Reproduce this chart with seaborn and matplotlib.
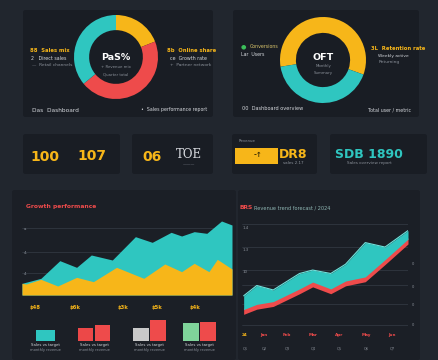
import matplotlib.pyplot as plt
import seaborn as sns
from matplotlib.patches import FancyBboxPatch

# ---- data ----
mix_share = [19, 45, 36]          # yellow, red, teal (clockwise from top)
users_share = [58, 42]            # yellow, teal

area_t_teal = [0, 9, 18, 26, 33, 43, 54, 62, 71, 76, 82, 88, 95, 100]
area_teal = [35, 50, 103, 83, 120, 105, 175, 158, 188, 177, 190, 185, 222, 210]
area_t_gold = [0, 2, 9, 17, 26, 34, 45, 58, 68, 76, 82, 89, 93, 100]
area_gold = [35, 33, 47, 27, 53, 40, 83, 50, 93, 70, 95, 70, 107, 78]
area_labels = ['$48', '$6k', '$3k', '$5k', '$4k']

mini_groups = [[11], [12, 15], [12, 20], [17, 18]]

trend_t = [0, 8, 18, 34, 42, 53, 62, 74, 86, 100]
trend_upper = [85, 115, 102, 150, 160, 150, 177, 240, 227, 275]
trend_lower = [45, 60, 68, 105, 125, 105, 128, 140, 190, 250]
trend_labels = ['24', 'Jan', 'Feb', 'Mar', 'Apr', 'May', 'Jun']
trend_sub = ['Q1', 'Q2', 'Q3', 'Q4', 'Q5', 'Q6', 'Q7']

# ---- style ----
BG = '#21262e'
PANEL = '#191d24'
TEAL = '#2fc6c0'
GOLD = '#f7b619'
RED = '#ee4b4b'
GRAY = '#8a9099'
LIGHT = '#d5d8dd'
GRID = '#363c46'

sns.set_theme(style='dark', rc={'axes.facecolor': 'none', 'figure.facecolor': BG})
plt.rcParams['font.family'] = ['DejaVu Sans']

W, H = 439, 360
fig = plt.figure(figsize=(W / 100, H / 100), dpi=100)
fig.patch.set_facecolor(BG)


def box(x0, y0, x1, y1):
    return [x0 / W, 1 - y1 / H, (x1 - x0) / W, (y1 - y0) / H]


def panel(x0, y0, x1, y1, fc=PANEL, z=-2):
    fig.patches.append(FancyBboxPatch((x0 / W, 1 - y1 / H), (x1 - x0) / W, (y1 - y0) / H,
                                      boxstyle='round,pad=0,rounding_size=0.006',
                                      transform=fig.transFigure, fc=fc, ec='none', zorder=z))


def txt(x, y, s, size=3.6, color=GRAY, **kw):
    kw.setdefault('va', 'center')
    fig.text(x / W, 1 - y / H, s, fontsize=size, color=color, **kw)


# panels
panel(23, 10, 213, 117)
panel(233, 10, 419, 117)
panel(23, 134, 120, 174)
panel(132, 134, 213, 174)
panel(232, 134, 317, 174)
panel(330, 134, 427, 174)
panel(12, 190, 236, 360, fc='#1b1f26')
panel(238, 190, 420, 360, fc='#1b1f26')

# ---- donut 1 ----
ax = fig.add_axes(box(74, 15, 158, 99))
ax.pie(mix_share, colors=[GOLD, RED, TEAL], startangle=90, counterclock=False,
       radius=1, wedgeprops=dict(width=0.36, edgecolor='none'))
ax.set_xlim(-1, 1)
ax.set_ylim(-1, 1)
ax.set_aspect('equal')
ax.axis('off')
txt(116, 58, 'PaS%', size=6.8, color='white', ha='center', weight='bold')
txt(116, 67, '+ Revenue mix', size=2.8, ha='center')
txt(116, 74, 'Quarter total', size=2.8, ha='center')

txt(30, 51, '88  Sales mix', size=3.8, color=GOLD, weight='bold')
txt(31, 58, '2   Direct sales', size=3.4, color=LIGHT)
txt(32, 65, '—  Retail channels', size=3.2)
txt(167, 51, '8b  Online share', size=3.8, color=GOLD, weight='bold')
txt(170, 58, 'ce  Growth rate', size=3.4, color=LIGHT)
txt(170, 65, '+  Partner network', size=3.2)
txt(32, 110, 'Das  Dashboard', size=4.2, color=LIGHT)
txt(207, 110, '•  Sales performance report', size=3.4, color=LIGHT, ha='right')

# ---- donut 2 ----
ax = fig.add_axes(box(280, 17, 366, 103))
ax.pie(users_share, colors=[GOLD, TEAL], startangle=189, counterclock=False,
       radius=1, wedgeprops=dict(width=0.37, edgecolor='none'))
ax.set_xlim(-1, 1)
ax.set_ylim(-1, 1)
ax.set_aspect('equal')
ax.axis('off')
txt(323, 57, 'OFT', size=6.8, color='white', ha='center', weight='bold')
txt(323, 66, 'Monthly', size=2.8, ha='center')
txt(323, 73, 'Summary', size=2.8, ha='center')

txt(241, 47, '●', size=4.5, color='#3bbf5a')
txt(250, 47, 'Conversions', size=3.4, color='#d8c36a')
txt(241, 54, 'Lar  Users', size=3.4, color=LIGHT)
txt(371, 48, '3L  Retention rate', size=3.8, color=GOLD, weight='bold')
txt(378, 56, 'Weekly active', size=3.2, color=LIGHT)
txt(379, 62, 'Returning', size=3.2)
txt(242, 109, '00  Dashboard overview', size=3.6, color=LIGHT)
txt(411, 110, 'Total user / metric', size=3.4, color=LIGHT, ha='right')

# ---- KPI cards ----
txt(45, 157, '100', size=10, color=GOLD, ha='center', weight='bold')
txt(92, 156, '107', size=10, color=GOLD, ha='center', weight='bold')
txt(152, 157, '06', size=10, color=GOLD, ha='center', weight='bold')
txt(189, 155, 'TOE', size=8.5, color=LIGHT, ha='center', family='DejaVu Serif')
txt(189, 164, '———', size=3, color=GRAY, ha='center')
txt(239, 141, 'Revenue', size=2.8)
fig.patches.append(FancyBboxPatch((235 / W, 1 - 164 / H), 43 / W, 16 / H, boxstyle='square,pad=0',
                                  transform=fig.transFigure, fc=GOLD, ec='none', zorder=-1))
txt(258, 155, '-↑', size=5, color='#3a2d05', ha='center', weight='bold')
txt(293, 154, 'DR8', size=9, color=GOLD, ha='center', weight='bold')
txt(293, 163, 'sales 2.17', size=3, color=GRAY, ha='center')
txt(369, 155, 'SDB 1890', size=9, color=TEAL, ha='center', weight='bold')
txt(369, 163, 'Sales overview report', size=3, color=GRAY, ha='center')

# ---- bottom left: stacked area ----
txt(26, 207, 'Growth performance', size=4.3, color=RED, weight='bold')
ax = fig.add_axes(box(22, 215, 232, 296))
ax.fill_between(area_t_teal, area_teal, color=TEAL, lw=0)
ax.fill_between(area_t_gold, area_gold, color=GOLD, lw=0)
ax.set_xlim(0, 100)
ax.set_ylim(-3, 240)
ax.set_yticks([66, 129, 201])
ax.set_xticks([])
ax.set_yticklabels([])
ax.grid(axis='y', color=GRID, lw=0.5)
ax.set_axisbelow(True)
ax.tick_params(length=0)
sns.despine(ax=ax, left=True, bottom=True)
for y, s in zip([229, 253, 274], ['a.', '4.', '4']):
    txt(24, y, s, size=2.8)
for x, s in zip([35, 75, 123, 157, 195], area_labels):
    txt(x, 307, s, size=3.8, color=GOLD, ha='center', weight='bold')

# mini bar groups
group_boxes = [(35, 318, 56, 341), (77, 318, 111, 341), (132, 318, 167, 341), (182, 318, 217, 341)]
group_colors = [[TEAL], ['#ec4848', RED], ['#c9c9c9', RED], ['#7fd49a', RED]]
for vals, bx, cols in zip(mini_groups, group_boxes, group_colors):
    ax = fig.add_axes(box(*bx))
    cats = [str(i) for i in range(len(vals))]
    sns.barplot(x=cats, y=vals, hue=cats, palette=cols, legend=False, ax=ax,
                width=0.94, saturation=1, linewidth=0)
    ax.set_ylim(0, 22)
    ax.axis('off')
    cx = (bx[0] + bx[2]) / 2
    txt(cx, 345, 'Sales vs target', size=2.8, color=LIGHT, ha='center')
    txt(cx, 350, 'monthly revenue', size=2.6, ha='center')

# ---- bottom right: trend band ----
txt(240, 208, 'BRS', size=4.3, color=RED, weight='bold')
txt(254, 208, 'Revenue trend forecast / 2024', size=3.6, color='#8fb6b3')
ax = fig.add_axes(box(242, 222, 408, 326))
ax.set_xlim(-1, 100)
ax.set_ylim(-3, 300)
ax.set_yticks([0, 60, 115, 160, 227, 295])
ax.set_xticks([])
ax.set_yticklabels([])
ax.grid(axis='y', color=GRID, lw=0.5)
ax.set_axisbelow(True)
ax.tick_params(length=0)
sns.despine(ax=ax, left=True, bottom=True)
ax.fill_between(trend_t, [v - 14 for v in trend_lower], [v + 4 for v in trend_lower],
                color=RED, lw=0)
ax.fill_between(trend_t, trend_lower, trend_upper, color=TEAL, lw=0)
sns.lineplot(x=trend_t, y=trend_upper, color='#6fe3dc', lw=0.8, ax=ax)
for y, s in zip([228, 250, 272], ['1.4', '1.3', '10']):
    txt(243, y, s, size=2.8)
for y in [264, 287, 305, 325]:
    txt(412, y, '0', size=2.6)
for x, s in zip([245, 264, 287, 313, 339, 366, 392], trend_labels):
    txt(x, 335, s, size=3, color=GOLD if s == '24' else RED, ha='center', weight='bold')
for x, s in zip([245, 264, 287, 313, 339, 366, 392], trend_sub):
    txt(x, 348, s, size=2.6, ha='center')

fig.savefig('out.png', dpi=100, facecolor=BG)
